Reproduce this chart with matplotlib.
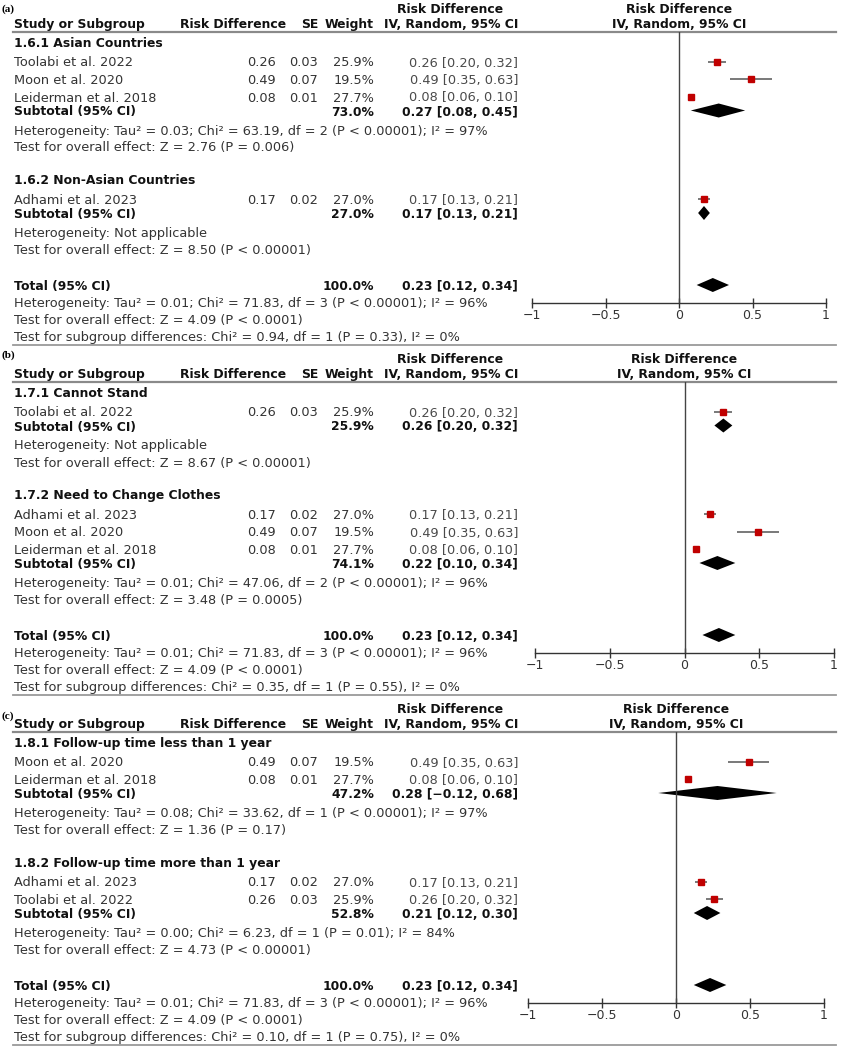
import matplotlib
matplotlib.use("Agg")
import matplotlib.pyplot as plt
import numpy as np

# ---- data ----
study_names = ["Toolabi et al. 2022", "Moon et al. 2020", "Leiderman et al. 2018", "Adhami et al. 2023"]
study_rd = [0.26, 0.49, 0.08, 0.17]
study_se = [0.03, 0.07, 0.01, 0.02]
study_weight = [25.9, 19.5, 27.7, 27.0]
study_lo = [0.20, 0.35, 0.06, 0.13]
study_hi = [0.32, 0.63, 0.10, 0.21]

panel_labels = ["(a)", "(b)", "(c)"]
group_titles = [["1.6.1 Asian Countries", "1.6.2 Non-Asian Countries"],
                ["1.7.1 Cannot Stand", "1.7.2 Need to Change Clothes"],
                ["1.8.1 Follow-up time less than 1 year", "1.8.2 Follow-up time more than 1 year"]]
group_members = [[[0, 1, 2], [3]],
                 [[0], [3, 1, 2]],
                 [[1, 2], [3, 0]]]
sub_weight = [[73.0, 27.0], [25.9, 74.1], [47.2, 52.8]]
sub_est = [[0.27, 0.17], [0.26, 0.22], [0.28, 0.21]]
sub_lo = [[0.08, 0.13], [0.20, 0.10], [-0.12, 0.12]]
sub_hi = [[0.45, 0.21], [0.32, 0.34], [0.68, 0.30]]
sub_het = [["Tau² = 0.03; Chi² = 63.19, df = 2 (P < 0.00001); I² = 97%", "Not applicable"],
           ["Not applicable", "Tau² = 0.01; Chi² = 47.06, df = 2 (P < 0.00001); I² = 96%"],
           ["Tau² = 0.08; Chi² = 33.62, df = 1 (P < 0.00001); I² = 97%",
            "Tau² = 0.00; Chi² = 6.23, df = 1 (P = 0.01); I² = 84%"]]
sub_z = [["Z = 2.76 (P = 0.006)", "Z = 8.50 (P < 0.00001)"],
         ["Z = 8.67 (P < 0.00001)", "Z = 3.48 (P = 0.0005)"],
         ["Z = 1.36 (P = 0.17)", "Z = 4.73 (P < 0.00001)"]]
total_weight = 100.0
total_est, total_lo, total_hi = 0.23, 0.12, 0.34
total_het = "Tau² = 0.01; Chi² = 71.83, df = 3 (P < 0.00001); I² = 96%"
total_z = "Z = 4.09 (P < 0.0001)"
subgroup_test = ["Chi² = 0.94, df = 1 (P = 0.33), I² = 0%",
                 "Chi² = 0.35, df = 1 (P = 0.55), I² = 0%",
                 "Chi² = 0.10, df = 1 (P = 0.75), I² = 0%"]
ticks = [-1, -0.5, 0, 0.5, 1]
tick_labels = ["\u22121", "\u22120.5", "0", "0.5", "1"]

# ---- layout (pixels) ----
W, H = 842, 1046
panel_top = [0, 350, 700]
label_dy = [8, 4, 15]
forest_px = [(532, 826), (535, 834), (528, 824)]
X_NAME, X_RDH, X_RD, X_SE, X_W, X_CI = 14, 286, 276, 318, 374, 518
FS = 9.3     # regular text
FB = 8.9     # bold text
TXT = "#333333"
DARK = "#111111"

fig = plt.figure(figsize=(W / 100, H / 100), dpi=100)
bg = fig.add_axes([0, 0, 1, 1])
bg.set_xlim(0, W)
bg.set_ylim(H, 0)
bg.axis("off")


def txt(x, y, s, ha="left", bold=False, color=None):
    bg.text(x, y, s, ha=ha, va="center_baseline", fontsize=FB if bold else FS,
            color=color or (DARK if bold else TXT),
            fontweight="bold" if bold else "normal", family="DejaVu Sans")


def ci_str(e, lo, hi):
    return f"{e:.2f} [{lo:.2f}, {hi:.2f}]".replace("-", "\u2212")


for p in range(3):
    top = panel_top[p]
    fx0, fx1 = forest_px[p]
    fmid = (fx0 + fx1) / 2

    bg.text(2, top + label_dy[p], panel_labels[p], ha="left", va="center_baseline",
            fontsize=8, fontweight="bold", family="Liberation Serif", color="black")

    # headers
    y1, y2 = top + 8, top + 23
    txt(X_CI, y2, "IV, Random, 95% CI", ha="right", bold=True)
    txt(X_CI - 68, y1, "Risk Difference", ha="center", bold=True)
    txt(fmid, y1, "Risk Difference", ha="center", bold=True)
    txt(X_NAME, y2, "Study or Subgroup", bold=True)
    txt(X_RDH, y2, "Risk Difference", ha="right", bold=True)
    txt(X_SE, y2, "SE", ha="right", bold=True)
    txt(X_W, y2, "Weight", ha="right", bold=True)
    txt(fmid, y2, "IV, Random, 95% CI", ha="center", bold=True)
    y_line = top + 32
    bg.plot([13, 836], [y_line, y_line], color="#8a8a8a", lw=1.6)

    # rows
    rows_study = []
    rows_sub = []
    cur = top + 42
    for g in range(2):
        if g > 0:
            cur += 33
        txt(X_NAME, cur, group_titles[p][g], bold=True)
        cur += 19.5
        for k, i in enumerate(group_members[p][g]):
            if k > 0:
                cur += 17.5
            txt(X_NAME, cur, study_names[i])
            txt(X_RD, cur, f"{study_rd[i]:.2f}", ha="right")
            txt(X_SE, cur, f"{study_se[i]:.2f}", ha="right")
            txt(X_W, cur, f"{study_weight[i]:.1f}%", ha="right")
            txt(X_CI, cur, ci_str(study_rd[i], study_lo[i], study_hi[i]), ha="right", color="#4a4a4a")
            rows_study.append((i, cur))
        cur += 14
        txt(X_NAME, cur, "Subtotal (95% CI)", bold=True)
        txt(X_W, cur, f"{sub_weight[p][g]:.1f}%", ha="right", bold=True)
        txt(X_CI, cur, ci_str(sub_est[p][g], sub_lo[p][g], sub_hi[p][g]), ha="right", bold=True)
        rows_sub.append((sub_est[p][g], sub_lo[p][g], sub_hi[p][g], cur))
        cur += 19
        txt(X_NAME, cur, "Heterogeneity: " + sub_het[p][g])
        cur += 17
        txt(X_NAME, cur, "Test for overall effect: " + sub_z[p][g])
    cur += 36
    txt(X_NAME, cur, "Total (95% CI)", bold=True)
    txt(X_W, cur, f"{total_weight:.1f}%", ha="right", bold=True)
    txt(X_CI, cur, ci_str(total_est, total_lo, total_hi), ha="right", bold=True)
    rows_sub.append((total_est, total_lo, total_hi, cur))
    cur += 17.5
    y_axis = cur
    txt(X_NAME, cur, "Heterogeneity: " + total_het)
    cur += 16.5
    txt(X_NAME, cur, "Test for overall effect: " + total_z)
    cur += 17
    txt(X_NAME, cur, "Test for subgroup differences: " + subgroup_test[p])
    cur += 9
    bg.plot([13, 836], [cur, cur], color="#9a9a9a", lw=1.3)

    # forest plot
    ax = fig.add_axes([fx0 / W, 1 - y_axis / H, (fx1 - fx0) / W, (y_axis - y_line) / H])
    ax.set_xlim(-1, 1)
    ax.set_ylim(y_axis, y_line)
    ax.patch.set_alpha(0)
    for s in ["left", "right", "top"]:
        ax.spines[s].set_visible(False)
    ax.spines["bottom"].set_color("#333333")
    ax.spines["bottom"].set_linewidth(1.0)
    ax.set_yticks([])
    ax.set_xticks(ticks)
    ax.set_xticklabels(tick_labels, fontsize=9, color=TXT, family="DejaVu Sans")
    ax.tick_params(axis="x", direction="inout", length=7, width=1, color="#333333", pad=1)
    ax.axvline(0, color="#444444", lw=1.0)

    for i, y in rows_study:
        ax.plot([study_lo[i], study_hi[i]], [y, y], color="#555555", lw=1.1, solid_capstyle="butt")
        ax.plot(study_rd[i], y, marker="s", color="#c00000", mec="#c00000",
                ms=np.sqrt(study_weight[i]) * 0.95, ls="none")
    for e, lo, hi, y in rows_sub:
        ax.fill([lo, e, hi, e], [y, y - 7, y, y + 7], color="black", lw=0)

fig.savefig("out.png", dpi=100)
